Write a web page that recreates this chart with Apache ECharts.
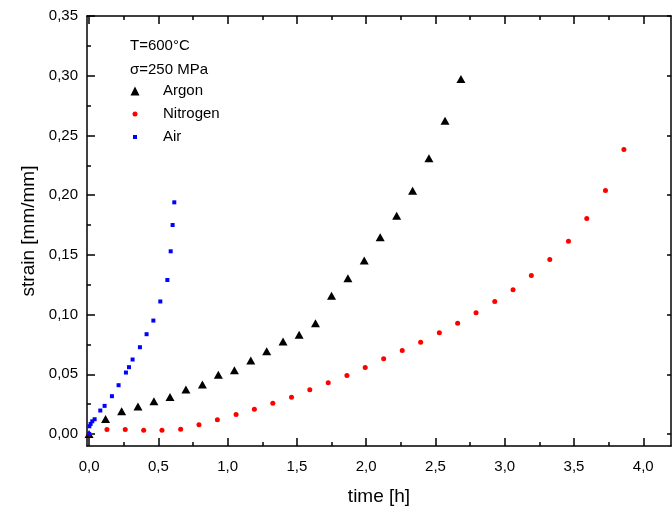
<!DOCTYPE html>
<html>
<head>
<meta charset="utf-8">
<script src="https://cdn.jsdelivr.net/npm/echarts@6/dist/echarts.min.js"></script>
<style>html,body{margin:0;padding:0;background:#fff}#c{width:672px;height:511px}</style>
</head>
<body>
<div id="c"></div>
<script>
// ---- data ----
const argonTime   = [0, 0.119, 0.235, 0.353, 0.468, 0.584, 0.699, 0.818, 0.933, 1.049, 1.167, 1.282, 1.400, 1.516, 1.634, 1.750, 1.868, 1.986, 2.101, 2.220, 2.335, 2.453, 2.569, 2.684];
const argonStrain = [0, 0.0127, 0.0191, 0.0230, 0.0275, 0.0311, 0.0373, 0.0415, 0.0496, 0.0535, 0.0616, 0.0694, 0.0775, 0.0831, 0.0928, 0.1157, 0.1305, 0.1453, 0.1648, 0.1827, 0.2037, 0.2310, 0.2623, 0.2972];
const nitrogenTime   = [0, 0.129, 0.261, 0.394, 0.526, 0.661, 0.793, 0.926, 1.061, 1.193, 1.326, 1.461, 1.593, 1.726, 1.861, 1.993, 2.126, 2.260, 2.393, 2.528, 2.660, 2.793, 2.928, 3.060, 3.192, 3.325, 3.460, 3.592, 3.727, 3.860];
const nitrogenStrain = [0, 0.0038, 0.0038, 0.0032, 0.0032, 0.0040, 0.0077, 0.0119, 0.0163, 0.0208, 0.0258, 0.0308, 0.0370, 0.0429, 0.0490, 0.0557, 0.0630, 0.0699, 0.0769, 0.0848, 0.0928, 0.1015, 0.1110, 0.1208, 0.1327, 0.1461, 0.1615, 0.1805, 0.2039, 0.2383];
const airTime   = [0, 0.002, 0.011, 0.023, 0.040, 0.081, 0.112, 0.165, 0.213, 0.266, 0.288, 0.314, 0.367, 0.415, 0.464, 0.514, 0.565, 0.589, 0.603, 0.615];
const airStrain = [0, 0.0065, 0.0085, 0.0107, 0.0124, 0.0197, 0.0236, 0.0317, 0.0409, 0.0515, 0.0560, 0.0624, 0.0727, 0.0836, 0.0950, 0.1110, 0.1290, 0.1530, 0.1750, 0.1940];
const xMajorTicks = [0, 0.5, 1.0, 1.5, 2.0, 2.5, 3.0, 3.5, 4.0];
const xMinorTicks = [0.25, 0.75, 1.25, 1.75, 2.25, 2.75, 3.25, 3.75];
const yMajorTicks = [0, 0.05, 0.10, 0.15, 0.20, 0.25, 0.30, 0.35];
const yMinorTicks = [0.025, 0.075, 0.125, 0.175, 0.225, 0.275, 0.325];
const annotations = ['T=600°C', 'σ=250 MPa'];

const zip = (a, b) => a.map((v, i) => [v, b[i]]);
const fmt1 = v => v.toFixed(1).replace('.', ',');
const fmt2 = v => v.toFixed(2).replace('.', ',');
const FONT = 'Liberation Sans, Arial, sans-serif';
const X_MIN = -0.015, X_MAX = 4.2, Y_MIN = -0.01, Y_MAX = 0.35;

function xAx(pos, vals, len, line, label) {
  return {
    type: 'value', position: pos, min: X_MIN, max: X_MAX,
    splitLine: { show: false },
    axisLine: { show: line, onZero: false, lineStyle: { color: '#000', width: 1.5 } },
    axisTick: { show: true, inside: true, length: len, customValues: vals, lineStyle: { color: '#000', width: 1.5 } },
    axisLabel: label ? { show: true, customValues: vals, formatter: fmt1, color: '#000', fontSize: 15, fontFamily: FONT, margin: 13 } : { show: false }
  };
}
function yAx(pos, vals, len, line, label) {
  return {
    type: 'value', position: pos, min: Y_MIN, max: Y_MAX,
    splitLine: { show: false },
    axisLine: { show: line, onZero: false, lineStyle: { color: '#000', width: 1.5 } },
    axisTick: { show: true, inside: true, length: len, customValues: vals, lineStyle: { color: '#000', width: 1.5 } },
    axisLabel: label ? { show: true, customValues: vals, formatter: fmt2, color: '#000', fontSize: 15, fontFamily: FONT, margin: 9 } : { show: false }
  };
}

const xAxes = [
  xAx('bottom', xMajorTicks, 8, true, true),
  xAx('bottom', xMinorTicks, 4, false, false),
  xAx('top', xMajorTicks, 8, true, false),
  xAx('top', xMinorTicks, 4, false, false)
];
Object.assign(xAxes[0], { name: 'time [h]', nameLocation: 'middle', nameGap: 41, nameTextStyle: { fontSize: 19, fontFamily: FONT, color: '#000' } });
const yAxes = [
  yAx('left', yMajorTicks, 8, true, true),
  yAx('left', yMinorTicks, 4, false, false),
  yAx('right', yMajorTicks, 4, true, false)
];
Object.assign(yAxes[0], { name: 'strain [mm/mm]', nameLocation: 'middle', nameGap: 46, nameTextStyle: { fontSize: 19, fontFamily: FONT, color: '#000' } });

function leg(name, top, left, size, pad) {
  return {
    data: [name], orient: 'vertical', left: left, top: top, padding: 0,
    itemWidth: size, itemHeight: size, selectedMode: false,
    textStyle: { fontSize: 15, fontFamily: FONT, color: '#000', lineHeight: 16, padding: [0, 0, 0, pad] }
  };
}

const chart = echarts.init(document.getElementById('c'), null, { renderer: 'canvas' });
chart.setOption({
  animation: false,
  backgroundColor: '#fff',
  grid: { left: 87, right: 1, top: 16, bottom: 65, containLabel: false },
  xAxis: xAxes,
  yAxis: yAxes,
  legend: [
    leg('Argon', 83, 130.5, 9, 18.5),
    leg('Nitrogen', 106, 132.5, 5, 20.5),
    leg('Air', 129, 133, 4, 21)
  ],
  graphic: [
    { type: 'text', left: 130, top: 38, style: { text: annotations[0], fontSize: 15, fontFamily: FONT, fill: '#000' } },
    { type: 'text', left: 130, top: 62, style: { text: annotations[1], fontSize: 15, fontFamily: FONT, fill: '#000' } }
  ],
  series: [
    { name: 'Argon', type: 'scatter', symbol: 'triangle', symbolSize: [9, 8], itemStyle: { color: '#000', opacity: 1 }, data: zip(argonTime, argonStrain), z: 3 },
    { name: 'Nitrogen', type: 'scatter', symbol: 'circle', symbolSize: 5, itemStyle: { color: '#ff0000', opacity: 1 }, data: zip(nitrogenTime, nitrogenStrain), z: 4 },
    { name: 'Air', type: 'scatter', symbol: 'rect', symbolSize: 4, itemStyle: { color: '#0000ff', opacity: 1 }, data: zip(airTime, airStrain), z: 5 }
  ]
});
</script>
</body>
</html>
